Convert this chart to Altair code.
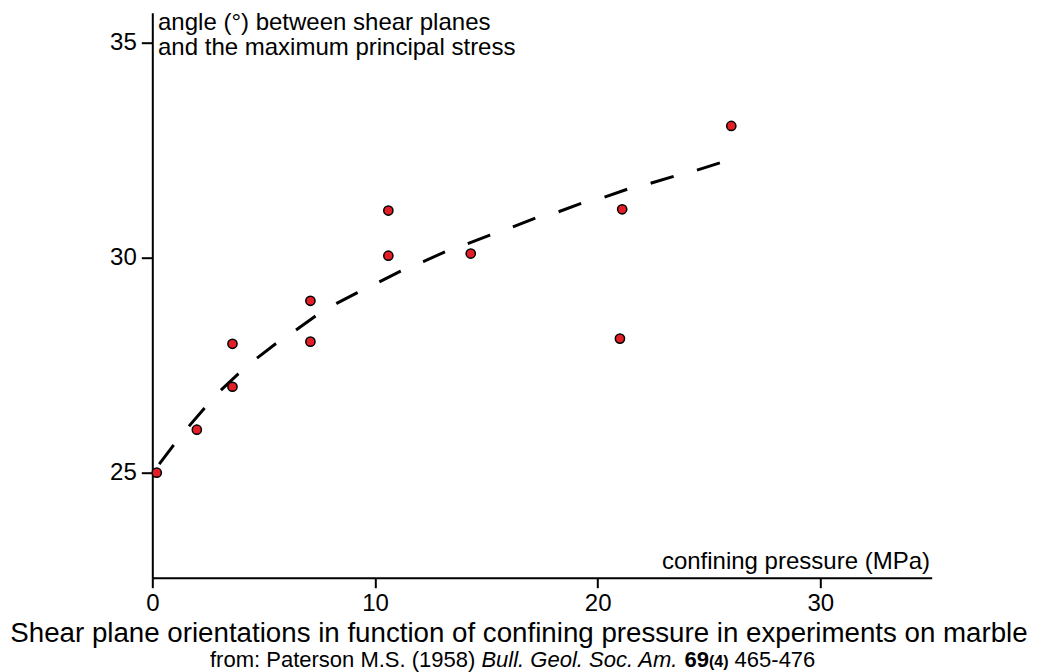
import altair as alt
import pandas as pd

# ---- data ----
pressure = [0.2, 2.0, 3.6, 3.6, 7.1, 7.1, 10.6, 10.6, 14.3, 21.1, 21.0, 26.0]
angle = [25.0, 26.0, 28.0, 27.0, 29.0, 28.05, 31.1, 30.05, 30.1, 31.13, 28.12, 33.07]

curve_x = [0.31, 0.94, 1.66, 2.32, 3.08, 3.86, 4.69, 5.54, 6.45, 7.34, 8.28, 9.21,
           10.19, 11.15, 12.17, 13.14, 14.12, 15.16, 16.18, 17.23, 18.23, 19.28,
           20.30, 21.35, 22.35, 23.43, 24.45, 25.49]
curve_y = [25.20, 25.63, 26.09, 26.49, 26.92, 27.30, 27.66, 28.00, 28.32, 28.65, 28.94, 29.19,
           29.44, 29.69, 29.91, 30.14, 30.32, 30.53, 30.72, 30.93, 31.07, 31.27,
           31.41, 31.60, 31.73, 31.90, 32.04, 32.21]

x_ticks = [0, 10, 20, 30]
y_ticks = [25, 30, 35]
x_domain = [0, 35]
y_domain = [22.556, 35.705]

y_title_lines = ["angle (°) between shear planes", "and the maximum principal stress"]
x_title = "confining pressure (MPa)"
main_title = "Shear plane orientations in function of confining pressure in experiments on marble"
sub_parts = ["from: Paterson M.S. (1958)", "Bull. Geol. Soc. Am.", "69", "(4)", "465-476"]

FONT = "Liberation Sans"
W, H = 779.4, 565

pts = pd.DataFrame({"pressure": pressure, "angle": angle})
curve = pd.DataFrame({"pressure": curve_x, "angle": curve_y})


def xenc():
    return alt.X("pressure:Q",
                 scale=alt.Scale(domain=x_domain, nice=False, zero=False),
                 axis=alt.Axis(values=x_ticks, title=None, grid=False, format="d",
                               labelFlush=False))


def yenc():
    return alt.Y("angle:Q",
                 scale=alt.Scale(domain=y_domain, nice=False, zero=False),
                 axis=alt.Axis(values=y_ticks, title=None, grid=False, format="d",
                               labelFlush=False))


line = alt.Chart(curve).mark_line(
    color="black", strokeWidth=3, strokeDash=[24, 24.2], strokeCap="butt"
).encode(x=xenc(), y=yenc())

points = alt.Chart(pts).mark_circle(
    size=85, color="#e41e26", stroke="black", strokeWidth=1.5, opacity=1
).encode(x=xenc(), y=yenc())


def label(text, px, py, size, style="normal", weight="normal", align="left"):
    return alt.Chart(pd.DataFrame({"t": [text]})).mark_text(
        align=align, baseline="alphabetic", fontSize=size, fontStyle=style,
        fontWeight=weight, font=FONT, color="black"
    ).encode(x=alt.value(px), y=alt.value(py), text="t:N")


SUB_Y = 654.3
texts = [
    label(y_title_lines[0], 5.7, 16.8, 24),
    label(y_title_lines[1], 5.7, 42.3, 24),
    label(x_title, 777.7, 556.3, 24, align="right"),
    label(main_title, 366.7, 629.5, 27.7, align="center"),
    label(sub_parts[0], 57.7, SUB_Y, 22),
    label(sub_parts[1], 329.1, SUB_Y, 22, style="italic"),
    label(sub_parts[2], 532.1, SUB_Y, 22, weight="bold"),
    label(sub_parts[3], 556.6, SUB_Y, 16, weight="bold"),
    label(sub_parts[4], 582.3, SUB_Y, 22),
]

chart = alt.layer(line, points, *texts).properties(
    width=W, height=H,
    autosize=alt.AutoSizeParams(type="none"),
    padding={"left": 144.3, "top": 4.7, "right": 99.3, "bottom": 94.3},
).configure_view(stroke=None).configure_axis(
    labelFont=FONT, labelFontSize=24, labelColor="black",
    domainColor="black", domainWidth=2, tickColor="black", tickWidth=2,
).configure_axisX(tickSize=10, labelPadding=4).configure_axisY(tickSize=11, labelPadding=5)

chart.save("out.html", embed_options={"renderer": "svg", "actions": False})
